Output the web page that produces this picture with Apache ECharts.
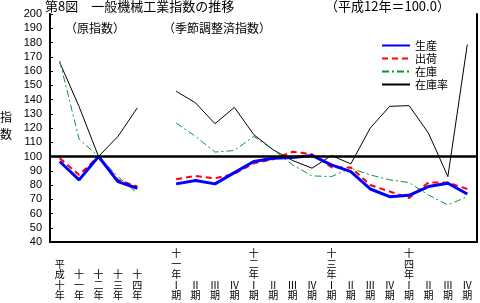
<!DOCTYPE html>
<html><head><meta charset="utf-8">
<script src="https://cdn.jsdelivr.net/npm/echarts@6/dist/echarts.min.js"></script>
<style>html,body{margin:0;padding:0;background:#fff}#c{width:480px;height:303px}</style>
</head><body><div id="c"></div>
<script>
var categories = ['平成十年','十一年','十二年','十三年','十四年','',
  '十一年Ⅰ期','Ⅱ期','Ⅲ期','Ⅳ期','十二年Ⅰ期','Ⅱ期','Ⅲ期','Ⅳ期',
  '十三年Ⅰ期','Ⅱ期','Ⅲ期','Ⅳ期','十四年Ⅰ期','Ⅱ期','Ⅲ期','Ⅳ期'];
var seisan = [96.5, 83.6, 100, 82.4, 77.7, null, 80.8, 83.1, 80.8, 88.7, 96.5, 98.8, 99.3, 100.7, 94.1, 89.4, 77.2, 71.8, 72.8, 78.9, 81.2, 73.7];
var shukka = [98.8, 87.1, 100, 83.6, 78.9, null, 84.0, 86.4, 84.7, 87.8, 95.3, 98.1, 103.3, 101.6, 92.5, 92.3, 80.0, 75.4, 70.9, 81.7, 81.7, 77.2];
var zaiko = [167, 112.2, 100, 85.9, 74.2, null, 123.5, 114.1, 103.1, 104.2, 114.1, 104.7, 94.1, 86.4, 85.9, 91.8, 87.1, 83.6, 81.7, 73.0, 66.0, 71.8];
var zaikoritsu = [166, 135, 100, 114.1, 134.1, null, 145.8, 137.6, 123.0, 134.5, 115.3, 104.7, 97.2, 91.8, 100.7, 94.8, 120.0, 135.2, 135.7, 116.4, 85.9, 178.6];
var seriesNames = ['生産','出荷','在庫','在庫率'];
var yMin = 40, yMax = 200, yStep = 10, baseLine = 100;

var JP = '"Noto Sans CJK JP", sans-serif';
var chart = echarts.init(document.getElementById('c'));
function vert(s){
  var ch = Array.from(s);
  while (ch.length < 5) ch.unshift('\u3000');
  return ch.join('\n');
}
chart.setOption({
  animation: false,
  grid: {left: 50, right: 3, top: 14, bottom: 61},
  legend: {
    show: true, orient: 'vertical', left: 376, top: 33, itemWidth: 28, itemHeight: 10, itemGap: -2,
    itemStyle: {opacity: 0},
    textStyle: {fontFamily: JP, fontSize: 11, color: '#000', lineHeight: 15},
    data: seriesNames
  },
  xAxis: {
    type: 'category', data: categories, boundaryGap: true,
    axisLine: {lineStyle: {color: '#000', width: 2}},
    axisTick: {inside: true, alignWithLabel: true, length: 4, lineStyle: {color: '#000', width: 1.5}},
    axisLabel: {interval: 0, margin: 6, fontFamily: JP, fontSize: 10, lineHeight: 10.6, color: '#000',
      formatter: function(v){ return v ? vert(v) : ''; }},
    splitLine: {show: false}
  },
  yAxis: [{
    type: 'value', min: yMin, max: yMax, interval: yStep,
    axisLine: {show: true, lineStyle: {color: '#000', width: 2}},
    axisTick: {show: true, inside: true, length: 3, lineStyle: {color: '#000'}},
    axisLabel: {margin: 8, fontFamily: 'Liberation Sans, sans-serif', fontSize: 11, color: '#000'},
    splitLine: {show: false}
  }, {
    type: 'value', min: yMin, max: yMax, interval: yStep, position: 'right',
    axisLine: {show: true, lineStyle: {color: '#000', width: 2}},
    axisTick: {show: false}, axisLabel: {show: false}, splitLine: {show: false}
  }],
  graphic: [
    {type: 'text', left: 45, top: 0, style: {text: '第8図　一般機械工業指数の推移', font: '13px ' + JP, fill: '#000'}},
    {type: 'text', left: 325, top: 0, style: {text: '（平成12年＝100.0）', font: '13px ' + JP, fill: '#000'}},
    {type: 'text', left: 65, top: 22, style: {text: '（原指数）', font: '12px ' + JP, fill: '#000'}},
    {type: 'text', left: 163, top: 22, style: {text: '（季節調整済指数）', font: '12px ' + JP, fill: '#000'}},
    {type: 'text', left: 0, top: 109, style: {text: '指\n数', font: '12px ' + JP, lineHeight: 17, fill: '#000'}}
  ],
  series: [
    {name: '在庫率', type: 'line', data: zaikoritsu, symbol: 'none', connectNulls: false,
      lineStyle: {color: '#000', width: 1}, itemStyle: {color: '#000'}},
    {name: '在庫', type: 'line', data: zaiko, symbol: 'none', connectNulls: false,
      lineStyle: {color: '#009933', width: 1, type: [7, 3, 2, 3]}, itemStyle: {color: '#009933'}},
    {name: '出荷', type: 'line', data: shukka, symbol: 'none', connectNulls: false,
      lineStyle: {color: '#ff0000', width: 2, type: [6, 4]}, itemStyle: {color: '#ff0000'}},
    {name: '生産', type: 'line', data: seisan, symbol: 'none', connectNulls: false,
      lineStyle: {color: '#0000ff', width: 3}, itemStyle: {color: '#0000ff'},
      markLine: {silent: true, symbol: 'none', label: {show: false},
        lineStyle: {color: '#000', width: 2.5, type: 'solid'}, data: [{yAxis: baseLine}]}}
  ]
});
</script></body></html>
